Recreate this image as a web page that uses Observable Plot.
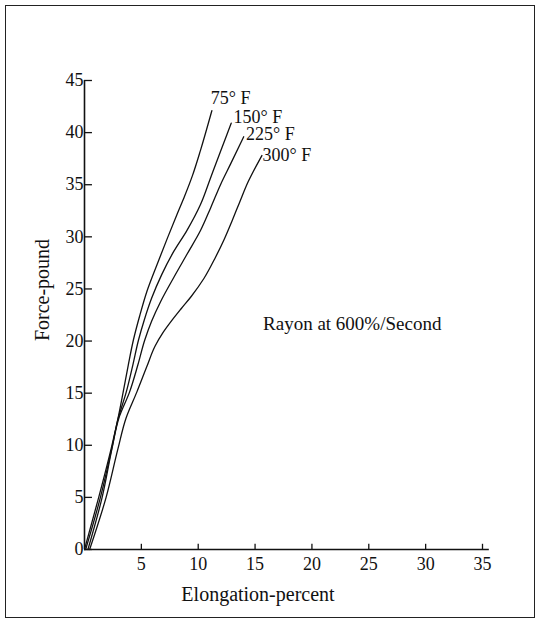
<!DOCTYPE html>
<html>
<head>
<meta charset="utf-8">
<script src="https://cdn.jsdelivr.net/npm/d3@7"></script>
<script src="https://cdn.jsdelivr.net/npm/@observablehq/plot@0.6"></script>
<style>
  html, body { margin: 0; padding: 0; background: #fff; }
  #wrap { position: relative; width: 541px; height: 623px; overflow: hidden; }
  #border { position: absolute; left: 5px; top: 5px; width: 530px; height: 613px; border: 1.5px solid #222; box-sizing: border-box; }
  #chart { position: absolute; left: 0; top: 0; }
</style>
</head>
<body>
<div id="wrap"><div id="border"></div><div id="chart"></div></div>
<script>
// Data
const series = ["75° F", "150° F", "225° F", "300° F"];
const curve75 = [[0,0],[1.25,5],[2.35,9.7],[2.95,12.6],[3.4,15.1],[3.85,17.7],[4.3,20.1],[4.85,22.4],[5.5,24.8],[6.4,27.4],[7.3,29.9],[8.15,32.2],[8.8,33.9],[9.5,35.9],[10.2,38.3],[11.2,42.1]];
const curve150 = [[0.1,0],[1.4,5],[2.4,9.7],[2.97,12.6],[3.67,15.1],[4.25,17.7],[4.75,20.1],[5.25,22.0],[5.9,24.1],[6.8,26.4],[7.85,28.6],[9.0,30.6],[10.2,33.1],[11.1,35.7],[12.0,38.3],[12.9,40.9]];
const curve225 = [[0.3,0],[1.55,5],[2.42,9.7],[3.02,12.6],[3.96,15.1],[4.69,17.7],[5.3,20.1],[5.9,21.9],[6.7,23.8],[7.85,26.1],[9.0,28.3],[10.2,30.6],[11.1,32.8],[12.0,35.1],[12.85,37.0],[14.0,39.6]];
const curve300 = [[0.45,0],[1.9,5],[2.95,9.7],[3.65,12.6],[4.6,15.1],[5.5,17.6],[6.2,19.5],[6.9,20.8],[7.7,22.0],[8.5,23.1],[9.4,24.3],[10.5,26.0],[11.5,28.0],[12.3,29.8],[13.0,31.6],[13.6,33.2],[14.4,35.3],[15.6,37.8]];
const labelX = [11.1, 13.1, 14.2, 15.65];
const labelY = [43.3, 41.5, 39.8, 37.8];
const xTicks = [5, 10, 15, 20, 25, 30, 35];
const yTicks = [0, 5, 10, 15, 20, 25, 30, 35, 40, 45];
const note = "Rayon at 600%/Second";

const curves = [curve75, curve150, curve225, curve300];
const rows = curves.flatMap((c, i) => c.map(([x, y]) => ({series: series[i], x, y})));
const labels = series.map((s, i) => ({s, x: labelX[i], y: labelY[i]}));

const font = "'Liberation Serif', 'DejaVu Serif', serif";
const chart = Plot.plot({
  width: 541,
  height: 623,
  marginLeft: 84,
  marginRight: 59,
  marginTop: 80,
  marginBottom: 74,
  style: {fontFamily: font, fontSize: "18px", color: "#111", background: "transparent"},
  x: {type: "linear", domain: [0, 35], axis: null},
  y: {type: "linear", domain: [0, 45], axis: null},
  marks: [
    // axis lines
    Plot.ruleY([0], {x1: 0, x2: 35.6, stroke: "#111", strokeWidth: 1.6}),
    Plot.ruleX([0], {y1: 0, y2: 45, stroke: "#111", strokeWidth: 1.6}),
    // inward ticks
    Plot.ruleX(xTicks, {x: d => d, y1: 0, y2: 0.5, stroke: "#111", strokeWidth: 1.3}),
    Plot.text(xTicks, {x: d => d, y: 0, text: d => String(d), dy: 15, fontSize: 18}),
    Plot.ruleY(yTicks, {y: d => d, x1: 0, x2: 0.7, stroke: "#111", strokeWidth: 1.3}),
    Plot.text(yTicks, {x: 0, y: d => d, text: d => String(d), textAnchor: "end", dx: -1, fontSize: 18}),
    // curves
    Plot.line(rows, {x: "x", y: "y", z: "series", curve: "monotone-y", stroke: "#111", strokeWidth: 1.3}),
    Plot.text(labels, {x: "x", y: "y", text: "s", textAnchor: "start", fontSize: 18}),
    Plot.text([note], {x: 15.7, y: 21.6, text: d => d, textAnchor: "start", fontSize: 19})
  ]
});
document.getElementById("chart").appendChild(chart);

// axis titles as real text in the SVG
const svg = d3.select(chart);
svg.append("text").attr("x", 258).attr("y", 601).attr("text-anchor", "middle")
  .attr("font-family", font).attr("font-size", 20).attr("fill", "#111").text("Elongation-percent");
svg.append("text").attr("transform", "translate(49,290) rotate(-90)").attr("text-anchor", "middle")
  .attr("font-family", font).attr("font-size", 20).attr("fill", "#111").text("Force-pound");
</script>
</body>
</html>
